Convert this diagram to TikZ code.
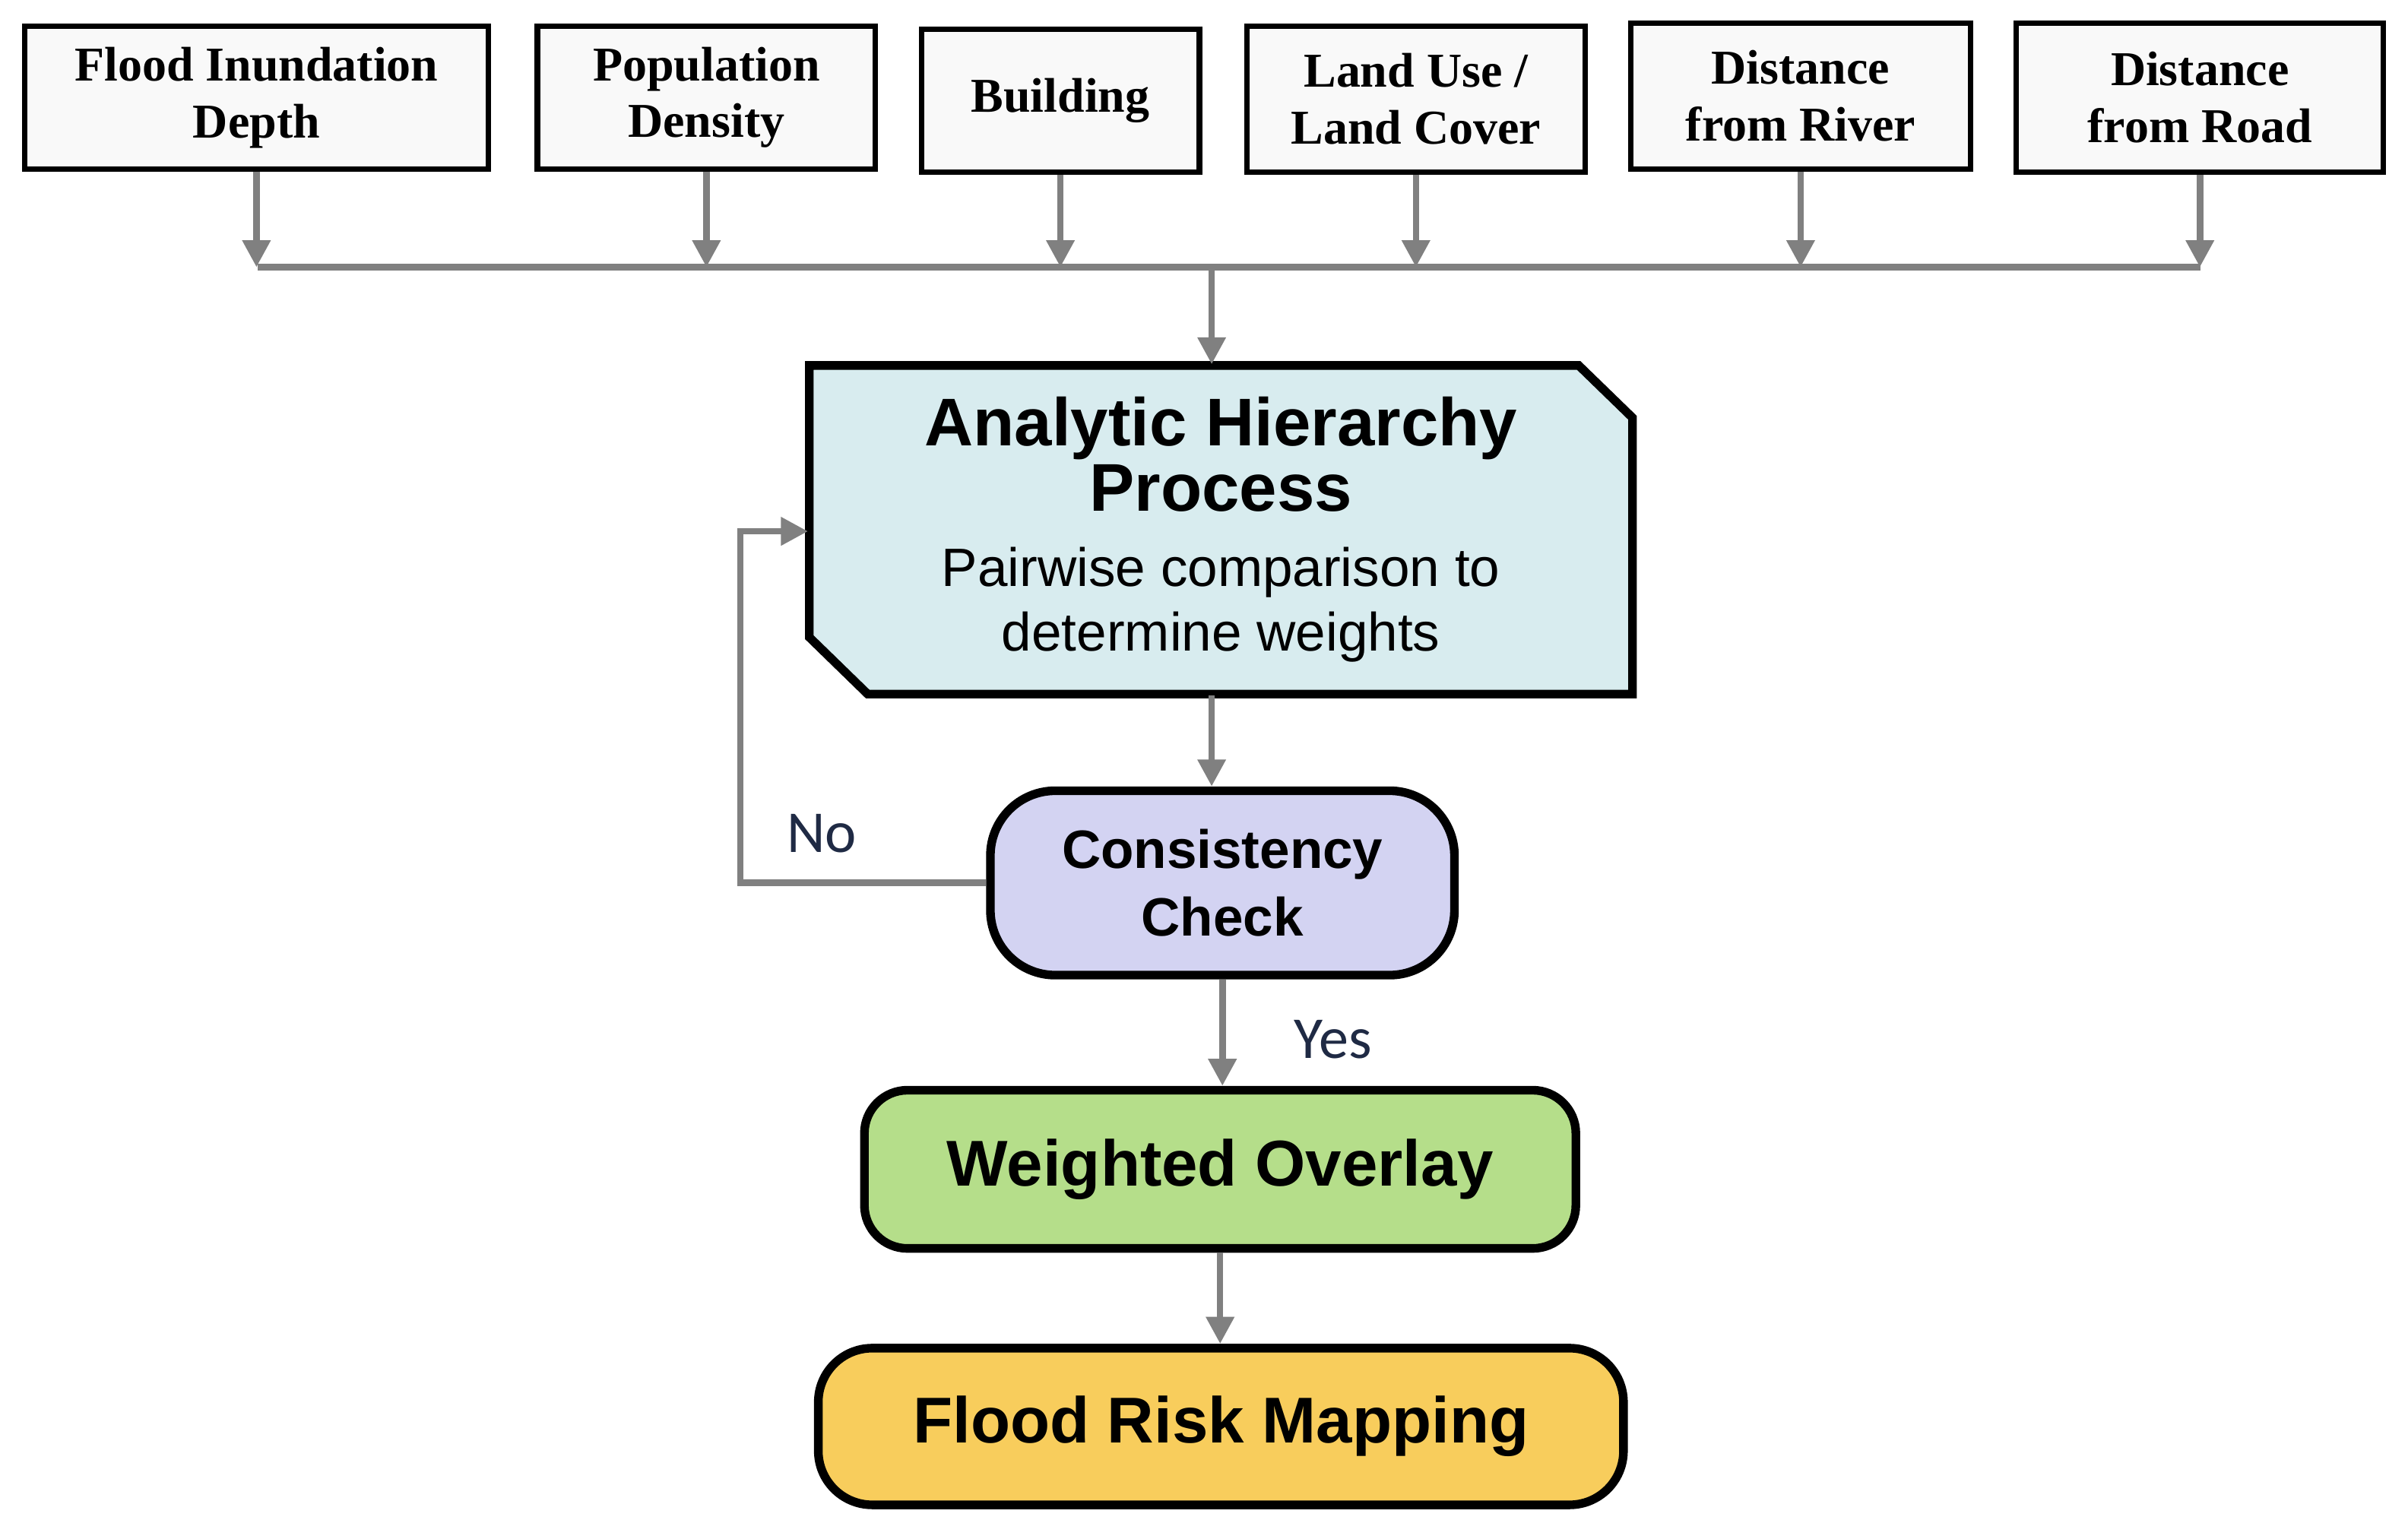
\documentclass[tikz,border=0pt]{standalone}
\usepackage{fontspec}
\setmainfont{Liberation Serif}
\newfontfamily\sansf{Liberation Sans}
\newfontfamily\calib{Carlito}
\usetikzlibrary{arrows.meta}
\definecolor{linegray}{HTML}{808080}
\definecolor{ahpfill}{HTML}{D8ECEF}
\definecolor{ccfill}{HTML}{D3D3F2}
\definecolor{wofill}{HTML}{B5DE8A}
\definecolor{frfill}{HTML}{F8CD5C}
\definecolor{navy}{HTML}{1F2A44}
\newcommand{\bigbf}{\sansf\bfseries\fontsize{12.5}{15.5}\selectfont}
\newcommand{\smallrm}{\sansf\mdseries\fontsize{10}{12.5}\selectfont}
\tikzset{%
	inp/.style={draw, line width=1pt, fill=gray!5, align=center, inner sep=0pt,
		font=\fontsize{9}{10.5}\selectfont\bfseries},
	proc/.style={draw, line width=1.6pt, align=center, inner sep=0pt},
	arrow/.style={line width=1.2pt, linegray, -{Triangle[length=5pt,width=5pt]}},
	bus/.style={line width=1.2pt, linegray},
	lab/.style={font=\calib\fontsize{11}{13}\selectfont, text=navy}}
\begin{document}
\begin{tikzpicture}[x=0.01cm,y=-0.01cm]
	\useasboundingbox (0,0) rectangle (1568,1002);
	% input boxes
	\node[inp, minimum width=3.02cm, minimum height=0.93cm] (fid) at (167,63.5) {Flood Inundation\\Depth};
	\node[inp, minimum width=2.20cm, minimum height=0.93cm] (pd) at (460,63.5) {Population\\Density};
	\node[inp, minimum width=1.81cm, minimum height=0.93cm] (bd) at (690.5,65.5) {Building};
	\node[inp, minimum width=2.20cm, minimum height=0.95cm] (lu) at (922,64.5) {Land Use /\\Land Cover};
	\node[inp, minimum width=2.21cm, minimum height=0.95cm] (dr) at (1172.5,62.5) {Distance\\from River};
	\node[inp, minimum width=2.39cm, minimum height=0.97cm] (dd) at (1432.5,63.5) {Distance\\from Road};
	% bus
	\coordinate (busl) at (168,174);
	\coordinate (busr) at (1433,174);
	\coordinate (busc) at (789,174);
	\draw[bus] (busl) -- (busr);
	\foreach \n in {fid,pd,bd,lu,dr,dd}
		\draw[arrow] (\n.south) -- (\n.south |- busl);
	% AHP box, chamfered outline drawn first
	\draw[line width=1.6pt, fill=ahpfill] (527,238) -- (1028,238) -- (1063,272) -- (1063,452)
		-- (565,452) -- (527,415) -- cycle;
	\node[align=center, inner sep=0pt, minimum width=5.36cm, minimum height=2.14cm] (ahp) at (795,345) {\bigbf Analytic Hierarchy\\\bigbf Process\\[2pt]\smallrm Pairwise comparison to\\\smallrm determine weights};
	\node[proc, fill=ccfill, rounded corners=12pt, minimum width=3.02cm, minimum height=1.20cm,
		font=\sansf\bfseries\fontsize{10}{12.5}\selectfont] (cc) at (796,575) {Consistency\\Check};
	\node[proc, fill=wofill, rounded corners=8pt, minimum width=4.63cm, minimum height=1.03cm,
		font=\sansf\bfseries\fontsize{12}{14}\selectfont] (wo) at (794.5,761.5) {Weighted Overlay};
	\node[proc, fill=frfill, rounded corners=10pt, minimum width=5.24cm, minimum height=1.02cm,
		font=\sansf\bfseries\fontsize{12}{14}\selectfont] (fr) at (795,929) {Flood Risk Mapping};
	% connectors
	\draw[arrow] (busc) -- (ahp.north -| busc);
	\draw[arrow] (ahp.south -| busc) -- (cc.north -| busc);
	\draw[arrow] (cc.west) -- (482,575) -- (482,346) -- (ahp.west |- 0,346);
	\draw[arrow] (cc.south) -- (wo.north -| cc.south);
	\draw[arrow] (wo.south) -- (fr.north -| wo.south);
	\node[lab] (no) at (535,543) {No};
	\node[lab] (yes) at (868,677) {Yes};
\end{tikzpicture}
\end{document}
